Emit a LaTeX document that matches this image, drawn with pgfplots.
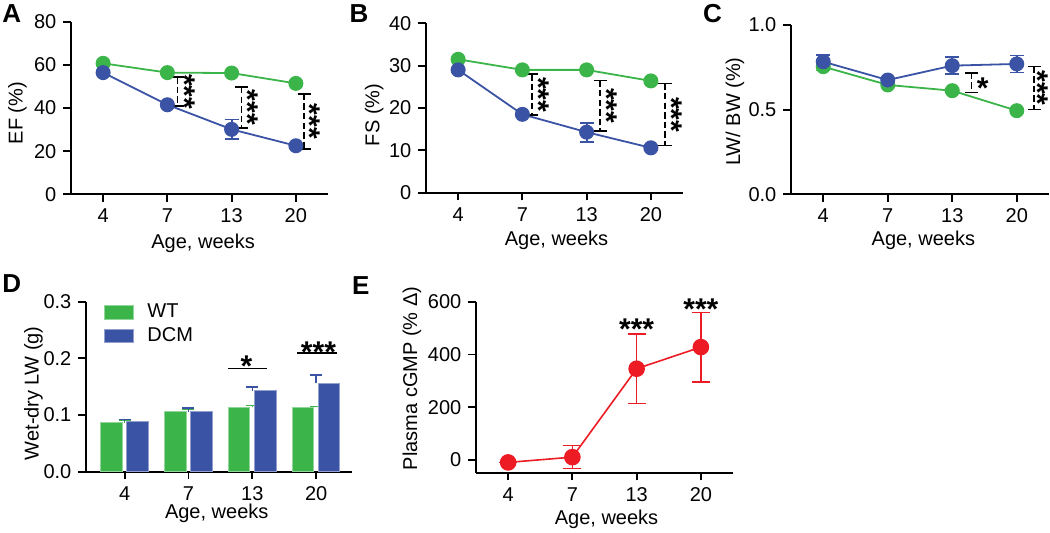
\documentclass[border=0pt]{standalone}
\usepackage{fontspec}
\setmainfont{Liberation Sans}
\usepackage{pgfplots}
\pgfplotsset{compat=1.18}

\definecolor{wtgreen}{HTML}{3BB54A}
\definecolor{dcmblue}{HTML}{3A53A4}
\definecolor{cgmpred}{HTML}{ED1C24}

\newcommand{\TickFont}{\fontsize{10}{12}\selectfont}
\newcommand{\StarFont}{\fontsize{15}{15}\selectfont\bfseries}
\newcommand{\PanelFont}{\fontsize{13}{13}\selectfont\bfseries}

% dashed significance bracket: x, top, bottom, middle, star shift
\newcommand{\SigV}[5]{%
  \draw[line width=0.8pt, dash pattern=on 3.2pt off 1.6pt] (axis cs:#1,#2) -- (axis cs:#1,#3);
  \draw[line width=0.8pt] ([xshift=-3.3pt]axis cs:#1,#2) -- ([xshift=3.3pt]axis cs:#1,#2);
  \draw[line width=0.8pt] ([xshift=-3.3pt]axis cs:#1,#3) -- ([xshift=3.3pt]axis cs:#1,#3);
  \node[xshift=#5, rotate=-90, font=\StarFont, inner sep=0pt] at (axis cs:#1,#4) {***};
}

\pgfplotsset{
  panel/.style={
    scale only axis,
    clip=false,
    axis x line*=bottom, axis y line*=left,
    axis line style={-, black, line width=1pt},
    every tick/.style={black, line width=0.9pt},
    tick align=outside,
    major tick length=3.8pt,
    xmin=-0.5, xmax=3.5,
    xtick={0,1,2,3}, xticklabels={4,7,13,20},
    tick label style={font=\TickFont},
    label style={font=\TickFont},
    /pgf/number format/assume math mode=true,
    xlabel={Age, weeks},
  },
  labelpos/.style n args={4}{
    xlabel style={at={(axis description cs:#1,#2)}, anchor=center},
    ylabel style={at={(axis description cs:#3,#4)}, anchor=center},
  },
  series/.style={line width=0.9pt, mark=*, mark size=3.3pt, mark options={solid}},
  errs/.style={error bars/.cd, y dir=both, y explicit,
    error bar style={line width=0.9pt, solid},
    error mark options={rotate=90, mark size=3.5pt, line width=0.9pt}},
}

\begin{document}
\begin{tikzpicture}
\useasboundingbox (0,0) rectangle (525pt,266pt);

% ---------- A ----------
\begin{axis}[panel, at={(35.5pt,168.85pt)}, anchor=south west,
  width=128.5pt, height=86.3pt,
  ymin=0, ymax=80, ytick={0,20,40,60,80},
  ylabel={EF (\%)}, labelpos={0.514}{-0.282}{-0.208}{0.471}]
\addplot[series, wtgreen] coordinates {(0,60.7) (1,56.4) (2,56.2) (3,51.4)};
\addplot[series, dcmblue, errs] coordinates {(0,56.4) +- (0,0) (1,41.5) +- (0,0) (2,30.1) +- (0,4.6) (3,22.5) +- (0,0)};
\SigV{1.155}{54.3}{40.8}{47.55}{3.5pt}
\SigV{2.155}{49.7}{30.8}{40.25}{3.3pt}
\SigV{3.13}{46.6}{20.9}{33.75}{3pt}
\end{axis}

% ---------- B ----------
\begin{axis}[panel, at={(213pt,169.65pt)}, anchor=south west,
  width=128.5pt, height=84.7pt,
  ymin=0, ymax=40, ytick={0,10,20,30,40},
  ylabel={FS (\%)}, labelpos={0.508}{-0.279}{-0.2016}{0.459}]
\addplot[series, wtgreen] coordinates {(0,31.5) (1,29.0) (2,29.0) (3,26.4)};
\addplot[series, dcmblue, errs] coordinates {(0,29.0) +- (0,0) (1,18.5) +- (0,0) (2,14.3) +- (0,2.25) (3,10.6) +- (0,0)};
\SigV{1.146}{28.0}{18.3}{23.15}{3.3pt}
\SigV{2.21}{26.5}{14.6}{20.55}{3.3pt}
\SigV{3.22}{25.8}{11.1}{18.45}{3.3pt}
\end{axis}

% ---------- C ----------
\begin{axis}[panel, at={(395.5pt,168.85pt)}, anchor=south west,
  width=129pt, height=84.65pt,
  ymin=0, ymax=1, ytick={0,0.5,1},
  yticklabel style={/pgf/number format/.cd, fixed, fixed zerofill, precision=1},
  ylabel={LW/ BW (\%)}, labelpos={0.513}{-0.27}{-0.217}{0.488}]
\addplot[series, wtgreen, errs] coordinates {(0,0.754) +- (0,0.023) (1,0.646) +- (0,0) (2,0.612) +- (0,0) (3,0.494) +- (0,0)};
\addplot[series, dcmblue, errs] coordinates {(0,0.783) +- (0,0.04) (1,0.675) +- (0,0) (2,0.760) +- (0,0.05) (3,0.770) +- (0,0.05)};
\draw[line width=0.8pt, dash pattern=on 3.2pt off 1.6pt] (axis cs:2.30,0.718) -- (axis cs:2.30,0.602);
\draw[line width=0.8pt] ([xshift=-3.3pt]axis cs:2.30,0.718) -- ([xshift=3.3pt]axis cs:2.30,0.718);
\draw[line width=0.8pt] ([xshift=-3.3pt]axis cs:2.30,0.602) -- ([xshift=3.3pt]axis cs:2.30,0.602);
\node[font=\StarFont, inner sep=0pt, xshift=5.5pt, yshift=-2.8pt] at (axis cs:2.30,0.66) {*};
\SigV{3.27}{0.754}{0.502}{0.628}{1.6pt}
\end{axis}

% ---------- D ----------
\begin{axis}[panel, at={(43pt,30.15pt)}, anchor=south west,
  width=132.85pt, height=85pt,
  xmin=-0.605, xmax=3.557,
  ymin=0, ymax=0.3, ytick={0,0.1,0.2,0.3},
  yticklabel style={/pgf/number format/.cd, fixed, fixed zerofill, precision=1},
  ylabel={Wet-dry LW (g)}, labelpos={0.492}{-0.245}{-0.198}{0.461},
  legend image code/.code={\fill[#1] (0pt,-3.35pt) rectangle (14.3pt,3.35pt); \path (20.15pt,0pt);},
  legend style={at={(axis description cs:0.0666,1)}, anchor=north west,
    draw=none, fill=none, font=\TickFont, inner sep=0pt, row sep=1.45pt,
    nodes={inner sep=1pt}, cells={anchor=west}},
  legend cell align=left]
\addplot[ybar, bar width=10.75pt, bar shift=-6.55pt, fill=wtgreen, draw=wtgreen!55!white, line width=0.5pt,
  error bars/.cd, y dir=plus, y explicit,
  error bar style={line width=0.8pt, wtgreen},
  error mark options={rotate=90, mark size=3pt, line width=0.8pt, wtgreen}]
  coordinates {(0,0.0865) +- (0,0.0045) (1,0.107) +- (0,0.004) (2,0.1136) +- (0,0.003) (3,0.1136) +- (0,0.0015)};
\addlegendentry{WT}
\addplot[ybar, bar width=10.75pt, bar shift=6.55pt, fill=dcmblue, draw=dcmblue!55!white, line width=0.5pt,
  error bars/.cd, y dir=plus, y explicit,
  error bar style={line width=0.8pt, dcmblue},
  error mark options={rotate=90, mark size=3pt, line width=0.8pt, dcmblue}]
  coordinates {(0,0.089) +- (0,0.003) (1,0.106) +- (0,0.006) (2,0.143) +- (0,0.007) (3,0.156) +- (0,0.0146)};
\addlegendentry{DCM}
\draw[line width=0.8pt] (axis cs:1.624,0.182) -- (axis cs:2.235,0.182);
\node[font=\StarFont, inner sep=0pt, yshift=1.4pt] at (axis cs:1.91,0.182) {*};
\draw[line width=0.8pt] (axis cs:2.705,0.210) -- (axis cs:3.322,0.210);
\node[font=\StarFont, inner sep=0pt, yshift=0.4pt] at (axis cs:3.037,0.210) {***};
\end{axis}

% ---------- E ----------
\begin{axis}[panel, at={(238pt,29.65pt)}, anchor=south west,
  width=128.5pt, height=85.5pt,
  ymin=-48, ymax=600, ytick={0,200,400,600},
  ylabel={Plasma cGMP (\% Δ)}, labelpos={0.508}{-0.271}{-0.249}{0.552}]
\addplot[cgmpred, line width=0.8pt, mark=*, mark size=3.75pt, mark options={solid},
  error bars/.cd, y dir=both, y explicit,
  error bar style={line width=0.7pt},
  error mark options={rotate=90, mark size=4.5pt, line width=0.7pt}]
  coordinates {(0,-9) +- (0,0) (1,11) +- (0,43) (2,346) +- (0,131) (3,428) +- (0,132)};
\node[font=\StarFont, inner sep=0pt, yshift=2.5pt] at (axis cs:2,477) {***};
\node[font=\StarFont, inner sep=0pt, yshift=1.7pt] at (axis cs:3,560) {***};
\end{axis}

% panel letters
\node[font=\PanelFont] at (5.85pt,259.35pt) {A};
\node[font=\PanelFont] at (179.5pt,259pt) {B};
\node[font=\PanelFont] at (356.25pt,259pt) {C};
\node[font=\PanelFont] at (5.85pt,124.35pt) {D};
\node[font=\PanelFont] at (180.4pt,123.1pt) {E};
\end{tikzpicture}
\end{document}
